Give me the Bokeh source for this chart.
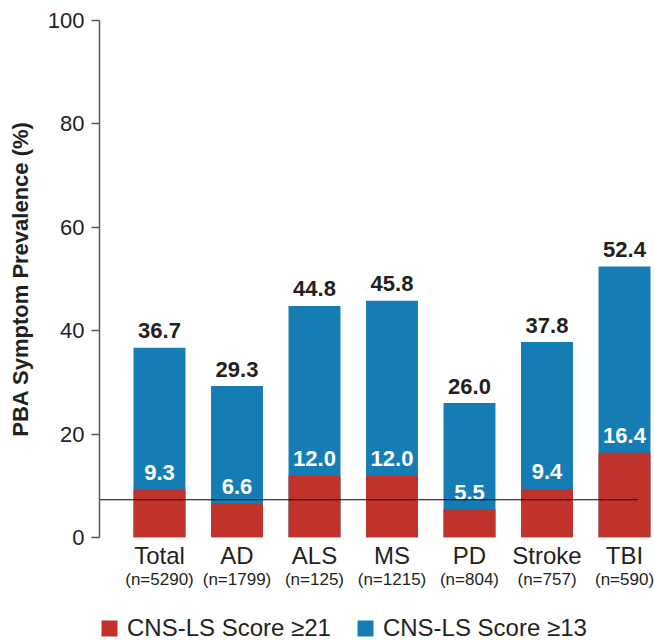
from bokeh.plotting import figure
from bokeh.layouts import column
from bokeh.models import (ColumnDataSource, Range1d, FixedTicker, LinearAxis,
                          Legend, LegendItem)
from bokeh.core.properties import value
from bokeh.embed import file_html
from bokeh.resources import INLINE

categories = ["Total", "AD", "ALS", "MS", "PD", "Stroke", "TBI"]
sample_sizes = ["(n=5290)", "(n=1799)", "(n=125)", "(n=1215)", "(n=804)", "(n=757)", "(n=590)"]
score_ge13 = [36.7, 29.3, 44.8, 45.8, 26.0, 37.8, 52.4]
score_ge21 = [9.3, 6.6, 12.0, 12.0, 5.5, 9.4, 16.4]
reference_line = 7.3
y_ticks = [0, 20, 40, 60, 80, 100]
legend_labels = ["CNS-LS Score \u226521", "CNS-LS Score \u226513"]

FONT = "Liberation Sans"
DARK = "#231f20"
BLUE = "#157db4"
RED = "#c0322a"

xs = list(range(len(categories)))
src = ColumnDataSource(dict(
    x=xs,
    s13=score_ge13,
    s21=score_ge21,
    s13_lbl=[f"{v:.1f}" for v in score_ge13],
    s21_lbl=[f"{v:.1f}" for v in score_ge21],
))

p = figure(width=654, height=592, output_backend="svg", toolbar_location=None,
           x_range=Range1d(-0.774, 6.387), y_range=Range1d(0, 100),
           min_border_left=99, min_border_right=0, min_border_top=20,
           min_border_bottom=55)
p.outline_line_color = None
p.grid.visible = False
p.background_fill_color = "white"

blue = p.vbar(x="x", top="s13", bottom=0, width=0.67, source=src,
              fill_color=BLUE, line_color=None)
red = p.vbar(x="x", top="s21", bottom=0, width=0.67, source=src,
             fill_color=RED, line_color=None)

p.text(x="x", y="s13", text="s13_lbl", source=src, text_align="center",
       text_baseline="alphabetic", y_offset=-17, text_font=value(FONT),
       text_font_size="22px", text_font_style="bold", text_color=DARK)
p.text(x="x", y="s21", text="s21_lbl", source=src, text_align="center",
       text_baseline="alphabetic", y_offset=-17, text_font=value(FONT),
       text_font_size="22px", text_font_style="bold", text_color="white")

p.segment(x0=[xs[0] - 1.0], x1=[xs[-1] + 0.17], y0=[reference_line],
          y1=[reference_line], line_color="black", line_width=1.2)

# y axis
ya = p.yaxis[0]
ya.ticker = FixedTicker(ticks=y_ticks)
ya.axis_label = "PBA Symptom Prevalence (%)"
ya.axis_label_text_font = FONT
ya.axis_label_text_font_size = "22px"
ya.axis_label_text_font_style = "bold"
ya.axis_label_text_color = DARK
ya.axis_label_standoff = 12
ya.major_label_text_font = FONT
ya.major_label_text_font_size = "22px"
ya.major_label_text_color = DARK
ya.major_label_standoff = 7
ya.major_tick_out = 8
ya.major_tick_in = 0
ya.minor_tick_line_color = None
ya.axis_line_color = "#555555"
ya.major_tick_line_color = "#555555"
ya.axis_line_width = 1.5
ya.major_tick_line_width = 1.5

# x axis: category names
xa = p.xaxis[0]
xa.ticker = FixedTicker(ticks=xs)
xa.major_label_overrides = {i: c for i, c in zip(xs, categories)}
xa.major_label_text_font = FONT
xa.major_label_text_font_size = "24px"
xa.major_label_text_color = DARK
xa.major_label_standoff = -2
xa.axis_line_color = None
xa.major_tick_line_color = None
xa.minor_tick_line_color = None

# second x axis: sample sizes
xa2 = LinearAxis(ticker=FixedTicker(ticks=xs),
                 major_label_overrides={i: n for i, n in zip(xs, sample_sizes)})
xa2.major_label_text_font = FONT
xa2.major_label_text_font_size = "17px"
xa2.major_label_text_color = DARK
xa2.major_label_standoff = -8
xa2.axis_line_color = None
xa2.major_tick_line_color = None
xa2.minor_tick_line_color = None
p.add_layout(xa2, "below")

# legend strip below the chart
lf = figure(width=654, height=48, output_backend="svg", toolbar_location=None,
            x_axis_type=None, y_axis_type=None, x_range=Range1d(0, 1),
            y_range=Range1d(0, 1), min_border_left=0, min_border_right=0,
            min_border_top=0, min_border_bottom=0)
lf.outline_line_color = None
lf.grid.visible = False
red_key = lf.vbar(x=[0], top=[0], bottom=[0], width=0, fill_color=RED, line_color=None)
blue_key = lf.vbar(x=[0], top=[0], bottom=[0], width=0, fill_color=BLUE, line_color=None)

legend = Legend(items=[LegendItem(label=legend_labels[0], renderers=[red_key]),
                       LegendItem(label=legend_labels[1], renderers=[blue_key])],
                orientation="horizontal", location=(0, -2))
legend.label_text_font = FONT
legend.label_text_font_size = "24px"
legend.label_text_color = DARK
legend.glyph_width = 20
legend.glyph_height = 20
legend.label_height = 20
legend.label_standoff = 8
legend.spacing = 24
legend.padding = 3
legend.margin = 0
legend.border_line_color = None
legend.background_fill_alpha = 0
lf.add_layout(legend)

layout = column(p, lf, spacing=0)
open("out.html", "w").write(file_html(layout, INLINE))
